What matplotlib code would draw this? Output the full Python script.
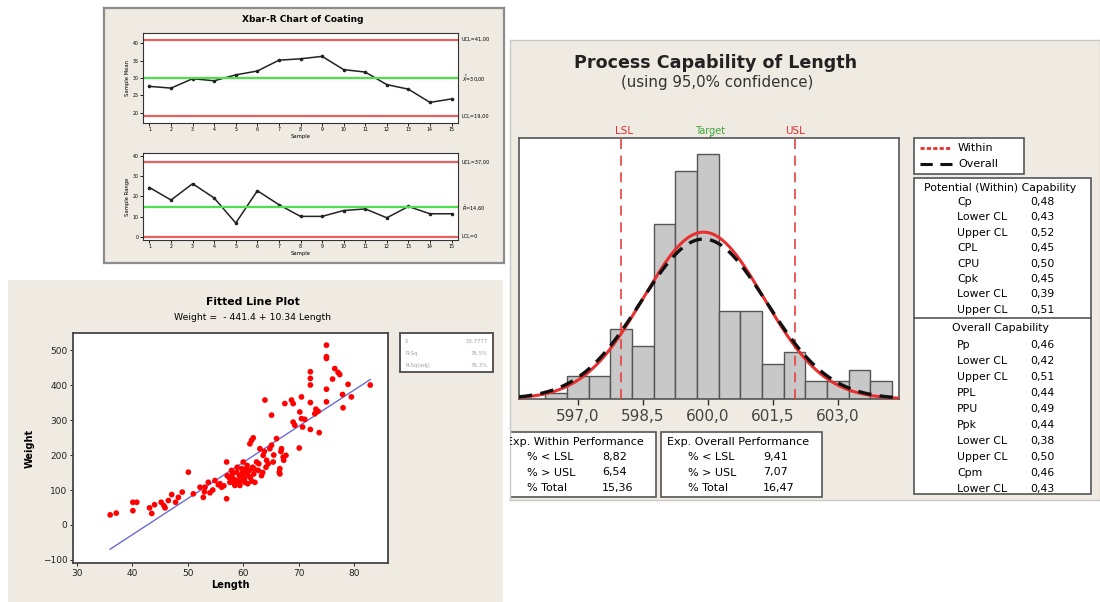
import numpy as np
import matplotlib
matplotlib.use('Agg')
import matplotlib.pyplot as plt
from matplotlib.patches import Rectangle

W, H = 1100, 602
BEIGE = '#EFEBE2'
plt.rcParams['font.family'] = ['DejaVu Sans']

# ---------------- Data: Xbar-R chart ----------------
samples = list(range(1, 16))
sample_means = [27.6, 27.1, 29.8, 29.2, 30.9, 32.0, 35.1, 35.5, 36.2, 32.4, 31.7, 28.1, 26.8, 23.0, 24.0]
xbar_limits = {'UCL': 41.0, 'CL': 30.0, 'LCL': 19.0}
xbar_ticks = [20, 25, 30, 35, 40]
sample_ranges = [24.4, 18.2, 26.3, 19.2, 6.8, 22.8, 15.9, 10.1, 10.1, 13.0, 13.8, 9.4, 15.0, 11.4, 11.4]
range_limits = {'UCL': 37.0, 'CL': 14.6, 'LCL': 0.0}
range_ticks = [0, 10, 20, 30, 40]

# ---------------- Data: Fitted line plot ----------------
length = [36.0, 37.1, 40.1, 40.8, 40.1, 43.1, 43.5, 45.2, 45.7, 45.9, 47.1, 47.8, 48.3, 49.0,
          50.1, 51.0, 52.2, 52.8, 53.1, 53.7, 54.0, 54.9, 55.8, 56.1, 57.0, 57.0, 57.1, 57.6,
          57.9, 58.2, 58.5, 58.8, 58.9, 59.1, 59.3, 59.4, 59.7, 60.0, 60.0, 60.3, 60.5, 60.7,
          60.9, 61.1, 61.2, 61.5, 61.8, 61.7, 61.9, 62.1, 62.4, 62.7, 63.0, 63.3, 63.6, 63.9,
          64.1, 64.2, 64.8, 65.1, 65.1, 65.4, 66.0, 66.5, 66.6, 66.6, 66.9, 67.2, 67.5, 67.7,
          68.7, 69.0, 69.0, 69.3, 70.1, 70.2, 70.5, 70.5, 70.7, 71.1, 72.1, 72.1, 72.1, 72.1,
          72.1, 72.9, 73.1, 73.5, 73.7, 75.0, 75.0, 75.0, 75.0, 75.0, 76.1, 76.5, 77.1, 77.4,
          77.9, 78.0, 78.9, 79.5, 82.9,
          59.0, 59.5, 60.2, 58.0, 58.6, 61.3, 62.0, 60.8, 59.8, 57.5, 63.5, 62.8, 63.8, 64.5,
          65.5, 66.8, 67.3, 58.3, 61.5, 60.5, 56.5, 55.5, 54.5, 53.0, 46.5, 44.0]
weight = [29, 34, 65, 65, 41, 49, 33, 65, 55, 49, 87, 65, 79, 94,
          151, 89, 108, 79, 108, 122, 92, 127, 118, 108, 180, 75, 141, 122,
          156, 132, 113, 151, 165, 127, 141, 113, 161, 180, 137, 122, 151, 170,
          141, 156, 232, 242, 249, 165, 146, 122, 180, 156, 218, 141, 199, 357,
          165, 185, 218, 314, 228, 180, 247, 151, 161, 146, 218, 194, 347, 199,
          357, 347, 294, 285, 220, 323, 366, 304, 280, 302, 438, 419, 400, 350,
          273, 318, 331, 325, 264, 514, 481, 476, 388, 352, 417, 447, 436, 430,
          373, 335, 402, 366, 400,
          118, 125, 130, 145, 128, 135, 160, 118, 148, 135, 150, 175, 210, 175,
          200, 210, 185, 120, 125, 160, 112, 115, 100, 95, 70, 58]
fit_intercept, fit_slope = -441.4, 10.34
fit_stats = [('S', '53.7777'), ('R-Sq', '76.5%'), ('R-Sq(adj)', '76.3%')]

# ---------------- Data: Process capability ----------------
bin_centers = [596.5, 597.0, 597.5, 598.0, 598.5, 599.0, 599.5, 600.0, 600.5, 601.0,
               601.5, 602.0, 602.5, 603.0, 603.5, 604.0]
bin_counts = [1, 4, 4, 12, 9, 30, 39, 42, 15, 15, 6, 8, 3, 3, 5, 3]
bin_width = 0.5
LSL, target, USL = 598.0, 600.0, 602.0
proc_mean, sigma_within, sigma_overall = 599.9, 1.389, 1.449
cap_ticks = [597.0, 598.5, 600.0, 601.5, 603.0]
within_labels = ['Cp', 'Lower CL', 'Upper CL', 'CPL', 'CPU', 'Cpk', 'Lower CL', 'Upper CL']
within_values = ['0,48', '0,43', '0,52', '0,45', '0,50', '0,45', '0,39', '0,51']
overall_labels = ['Pp', 'Lower CL', 'Upper CL', 'PPL', 'PPU', 'Ppk', 'Lower CL', 'Upper CL', 'Cpm', 'Lower CL']
overall_values = ['0,46', '0,42', '0,51', '0,44', '0,49', '0,44', '0,38', '0,50', '0,46', '0,43']
perf_labels = ['% < LSL', '% > USL', '% Total']
perf_within = ['8,82', '6,54', '15,36']
perf_overall = ['9,41', '7,07', '16,47']

# ---------------- helpers ----------------
fig = plt.figure(figsize=(W / 100, H / 100), dpi=100)
fig.patch.set_facecolor('white')


def rect(x0, y0, x1, y1):
    return [x0 / W, 1 - y1 / H, (x1 - x0) / W, (y1 - y0) / H]


def panel(x0, y0, x1, y1, edge='#9A9A9A', lw=1.2):
    ax = fig.add_axes(rect(x0, y0, x1, y1), zorder=0)
    ax.set_xlim(x0, x1)
    ax.set_ylim(y1, y0)
    ax.set_facecolor(BEIGE)
    ax.set_xticks([])
    ax.set_yticks([])
    for s in ax.spines.values():
        s.set_color(edge)
        s.set_linewidth(lw)
    return ax


def plot_axes(x0, y0, x1, y1, edgecolor='#333333', lw=1.0):
    ax = fig.add_axes(rect(x0, y0, x1, y1), zorder=2)
    ax.set_facecolor('white')
    for s in ax.spines.values():
        s.set_color(edgecolor)
        s.set_linewidth(lw)
    return ax


# ================= Panel A: Xbar-R chart =================
pA = panel(104, 8, 504, 263, edge='#8C8C8C', lw=1.6)
pA.text(303, 20, 'Xbar-R Chart of Coating', ha='center', va='center', fontsize=6.5, fontweight='bold')

a1 = plot_axes(143, 33, 458, 123, lw=0.8)
a1.plot(samples, sample_means, color='#222222', lw=1.1, marker='o', ms=1.6)
a1.axhline(xbar_limits['UCL'], color='#E86060', lw=1.6)
a1.axhline(xbar_limits['LCL'], color='#E86060', lw=1.6)
a1.axhline(xbar_limits['CL'], color='#4CE04C', lw=1.6)
a1.set_ylim(17.1, 42.9)
a1.set_xlim(0.7, 15.3)
a1.set_xticks(samples)
a1.set_yticks(xbar_ticks)
a1.tick_params(labelsize=3.4, length=2, width=0.6, pad=1)
a1.set_xlabel('Sample', fontsize=3.8, labelpad=1)
a1.set_ylabel('Sample Mean', fontsize=3.8, labelpad=2)
for key, lab in [('UCL', 'UCL=41,00'), ('CL', r'$\bar{\bar{X}}$=30,00'), ('LCL', 'LCL=19,00')]:
    a1.text(1.012, (xbar_limits[key] - 17.1) / 25.8, lab, transform=a1.transAxes,
            fontsize=3.6, va='center', ha='left')

a2 = plot_axes(143, 153, 458, 240, lw=0.8)
a2.plot(samples, sample_ranges, color='#222222', lw=1.1, marker='o', ms=1.6)
a2.axhline(range_limits['UCL'], color='#E86060', lw=1.6)
a2.axhline(range_limits['LCL'], color='#E86060', lw=1.6)
a2.axhline(range_limits['CL'], color='#4CE04C', lw=1.6)
a2.set_ylim(-1.6, 41.5)
a2.set_xlim(0.7, 15.3)
a2.set_xticks(samples)
a2.set_yticks(range_ticks)
a2.tick_params(labelsize=3.4, length=2, width=0.6, pad=1)
a2.set_xlabel('Sample', fontsize=3.8, labelpad=1)
a2.set_ylabel('Sample Range', fontsize=3.8, labelpad=2)
for key, lab in [('UCL', 'UCL=37,00'), ('CL', r'$\bar{R}$=14,60'), ('LCL', 'LCL=0')]:
    a2.text(1.012, (range_limits[key] + 1.6) / 43.1, lab, transform=a2.transAxes,
            fontsize=3.6, va='center', ha='left')

# ================= Panel B: Fitted line plot =================
pB = panel(8, 280, 502, 602, edge=BEIGE, lw=0.5)
pB.text(253, 302, 'Fitted Line Plot', ha='center', va='center', fontsize=7.8, fontweight='bold')
pB.text(253, 317, 'Weight =  - 441.4 + 10.34 Length', ha='center', va='center', fontsize=6.7)

b1 = plot_axes(73, 333, 388, 563, edgecolor='#444444', lw=1.3)
b1.scatter(length, weight, s=17, color='#FF0000', edgecolors='none', zorder=3)
xf = np.array([min(length), max(length)])
b1.plot(xf, fit_intercept + fit_slope * xf, color='#6B6BD6', lw=1.0, zorder=2)
b1.set_xlim(29.3, 86.1)
b1.set_ylim(-108.6, 548.7)
b1.set_xticks([30, 40, 50, 60, 70, 80])
b1.set_yticks([-100, 0, 100, 200, 300, 400, 500])
b1.tick_params(labelsize=6.5, length=2.5, width=0.7, pad=1.5, colors='#222222')
b1.set_xlabel('Length', fontsize=7, fontweight='bold', labelpad=2)
b1.set_ylabel('Weight', fontsize=7, fontweight='bold', labelpad=6)

pB.add_patch(Rectangle((400, 333), 93, 39, facecolor='white', edgecolor='#555555', lw=1.4))
for i, (k, v) in enumerate(fit_stats):
    yy = 341 + i * 12
    pB.text(405, yy, k, fontsize=3.9, color='#A0A0A0', va='center', ha='left')
    pB.text(488, yy, v, fontsize=3.9, color='#A0A0A0', va='center', ha='right')

# ================= Panel C: Process capability =================
pC = panel(510, 40, 1100, 500, edge='#C8C8C8', lw=1.0)
pC.text(716, 63, 'Process Capability of Length', ha='center', va='center', fontsize=12.6, fontweight='bold',
        color='#222222')
pC.text(717, 83, '(using 95,0% confidence)', ha='center', va='center', fontsize=10.8, color='#333333')

c1 = plot_axes(519, 138, 899, 399, edgecolor='#555555', lw=1.2)
c1.bar(bin_centers, bin_counts, width=bin_width, color='#C8C8C8', edgecolor='#555555', lw=1.0, zorder=2)
c1.set_xlim(595.64, 604.41)
c1.set_ylim(0, 44.7)
xs = np.linspace(595.64, 604.41, 400)
n_total = sum(bin_counts)
scale = n_total * bin_width


def normal_pdf(x, mu, sd):
    return np.exp(-0.5 * ((x - mu) / sd) ** 2) / (sd * np.sqrt(2 * np.pi))


c1.plot(xs, scale * normal_pdf(xs, proc_mean, sigma_within), color='#E83030', lw=2.2, zorder=4)
c1.plot(xs, scale * normal_pdf(xs, proc_mean, sigma_overall), color='#111111', lw=2.4,
        dashes=(4, 2.5), zorder=5)
for v in (LSL, USL):
    c1.axvline(v, color='#E84040', lw=1.2, dashes=(6, 4), zorder=3)
c1.set_xticks(cap_ticks)
c1.set_xticklabels([f'{t:.1f}'.replace('.', ',') for t in cap_ticks])
c1.set_yticks([])
c1.tick_params(axis='x', labelsize=11, length=4, width=1.0, pad=3, colors='#333333', labelcolor='#444444')

pC.text(624, 131, 'LSL', ha='center', va='center', fontsize=7.5, color='#E03030')
pC.text(795, 131, 'USL', ha='center', va='center', fontsize=7.5, color='#E03030')
pC.text(710, 131, 'Target', ha='center', va='center', fontsize=7.0, color='#3DA83D')
pC.plot([710, 710], [135, 141], color='#3DA83D', lw=1.0)

# legend box
pC.add_patch(Rectangle((914, 138), 110, 36, facecolor='white', edgecolor='#555555', lw=1.2))
pC.plot([920, 952], [148, 148], color='#E83030', lw=2.0, dashes=(1.5, 0.8))
pC.plot([920, 952], [164, 164], color='#111111', lw=2.2, dashes=(4, 2.5))
pC.text(958, 148, 'Within', fontsize=8, va='center', ha='left')
pC.text(958, 164, 'Overall', fontsize=8, va='center', ha='left')

# capability table
pC.add_patch(Rectangle((914, 178), 177, 316, facecolor='white', edgecolor='#555555', lw=1.2))
pC.plot([914, 1091], [318, 318], color='#555555', lw=1.2)
pC.text(1000, 188, 'Potential (Within) Capability', ha='center', va='center', fontsize=7.8)
for i, (lab, val) in enumerate(zip(within_labels, within_values)):
    yy = 202 + i * 15.4
    pC.text(957, yy, lab, fontsize=7.8, va='center', ha='left')
    pC.text(1030, yy, val, fontsize=7.8, va='center', ha='left')
pC.text(1000, 328, 'Overall Capability', ha='center', va='center', fontsize=7.8)
for i, (lab, val) in enumerate(zip(overall_labels, overall_values)):
    yy = 345 + i * 16
    pC.text(957, yy, lab, fontsize=7.8, va='center', ha='left')
    pC.text(1030, yy, val, fontsize=7.8, va='center', ha='left')

# performance boxes
for (x0, x1, head, vals) in [(500, 656, 'Exp. Within Performance', perf_within),
                             (661, 822, 'Exp. Overall Performance', perf_overall)]:
    pC.add_patch(Rectangle((x0, 432), x1 - x0, 65, facecolor='white', edgecolor='#555555', lw=1.2))
    pC.text(x0 + 6, 442, head, fontsize=8, va='center', ha='left', clip_on=True)
    for i, (lab, val) in enumerate(zip(perf_labels, vals)):
        yy = 457 + i * 15.5
        pC.text(x0 + 27, yy, lab, fontsize=8, va='center', ha='left', clip_on=True)
        pC.text(x0 + 102, yy, val, fontsize=8, va='center', ha='left', clip_on=True)

fig.savefig('out.png', dpi=100, facecolor='white')
